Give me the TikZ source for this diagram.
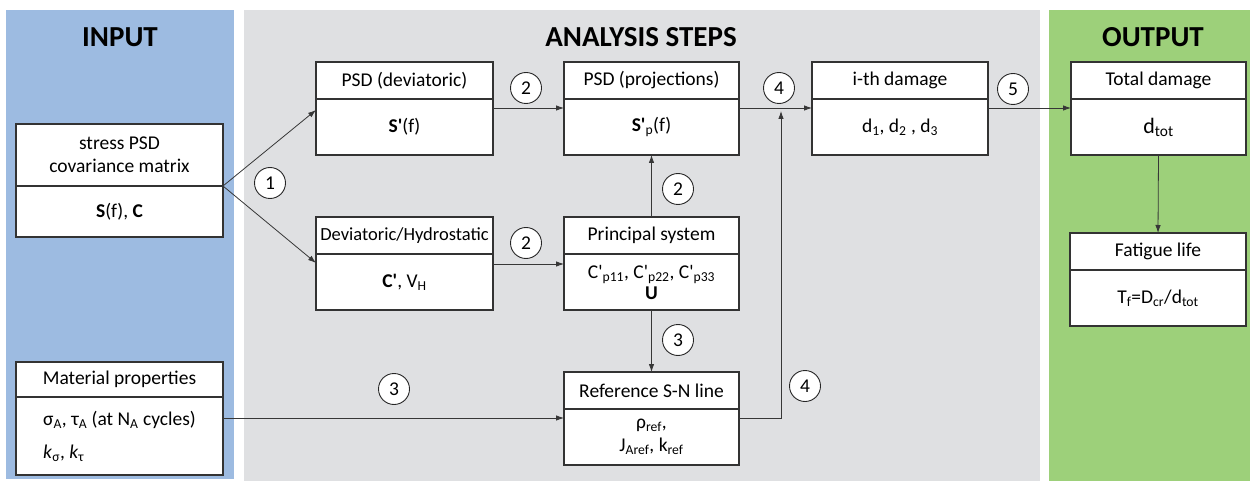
\documentclass[tikz,border=0pt]{standalone}
\usepackage{fontspec}
\setmainfont{Carlito}
\usetikzlibrary{positioning}
\usetikzlibrary{arrows.meta}
\usetikzlibrary{calc}
\definecolor{inblue}{RGB}{157,187,225}
\definecolor{stepgray}{RGB}{223,224,226}
\definecolor{outgreen}{RGB}{157,208,122}
\definecolor{linegray}{RGB}{55,55,55}
\tikzset{
    headbox/.style = {rectangle, draw=black!80, line width=1.1pt, fill=white, minimum width=#1, minimum height=37, inner sep=2pt, outer sep=0pt, align=center, font=\fontsize{19.5}{23}\selectfont},
    bodybox/.style = {rectangle, draw=black!80, line width=1.1pt, fill=white, minimum width=#1, minimum height=56, inner sep=2pt, outer sep=0pt, align=center, font=\fontsize{19.5}{23}\selectfont},
    stepnum/.style = {circle, draw=black!85, line width=0.9pt, fill=white, minimum size=31, inner sep=0pt, font=\fontsize{19.5}{19.5}\selectfont},
    paneltitle/.style = {font=\fontsize{29}{29}\selectfont\bfseries},
    edgen/.style = {-{Latex[length=8pt,width=5.5pt]}, line width=0.8pt, draw=linegray},
}

\begin{document}
\begin{tikzpicture}[x=1pt,y=-1pt]
\useasboundingbox (0,0) rectangle (1250,481);
% panels
\fill[inblue] (6,10) rectangle (234,479);
\fill[stepgray] (244,10) rectangle (1040,481);
\fill[outgreen] (1049,10) rectangle (1250,481);
\node[paneltitle] at (120,37) (tin) {INPUT};
\node[paneltitle] at (641,37) (tsteps) {ANALYSIS STEPS};
\node[paneltitle] at (1153,37) (tout) {OUTPUT};
%
\node[headbox=207, minimum height=62, anchor=north west] at (16,124) (stress) {stress PSD\\covariance matrix};
\node[bodybox=207, minimum height=51, below=0pt of stress] (stress-b) {\textbf{S}(f), \textbf{C}};
\node[headbox=207, minimum height=35, anchor=north west] at (16,362) (mat) {Material properties};
\node[bodybox=207, minimum height=78, align=left, below=0pt of mat] (mat-b) {σ\textsubscript{A}, τ\textsubscript{A} (at N\textsubscript{A} cycles)\\[10pt]\textit{k}\textsubscript{σ}, \textit{k}\textsubscript{τ}};
%
\node[headbox=177, anchor=north west] at (316,62) (dev) {PSD (deviatoric)};
\node[bodybox=177, below=0pt of dev] (dev-b) {\textbf{S\textquotesingle}(f)};
\node[headbox=177, font=\fontsize{18.5}{22}\selectfont, anchor=north west] at (316,217) (hyd) {Deviatoric/Hydrostatic};
\node[bodybox=177, below=0pt of hyd] (hyd-b) {\textbf{C\textquotesingle}, V\textsubscript{H}};
\node[headbox=175, anchor=north west] at (564,62) (proj) {PSD (projections)};
\node[bodybox=175, below=0pt of proj] (proj-b) {\textbf{S\textquotesingle}\textsubscript{p}(f)};
\node[headbox=175, anchor=north west] at (564,217) (prin) {Principal system};
\node[bodybox=175, below=0pt of prin] (prin-b) {C\textquotesingle\textsubscript{p11}, C\textquotesingle\textsubscript{p22}, C\textquotesingle\textsubscript{p33}\\[-2pt]\textbf{U}};
\node[headbox=175, anchor=north west] at (564,372) (ref) {Reference S-N line};
\node[bodybox=175, below=0pt of ref] (ref-b) {ρ\textsubscript{ref},\\J\textsubscript{Aref}, k\textsubscript{ref}};
\node[headbox=176, anchor=north west] at (812,62) (dmg) {i-th damage};
\node[bodybox=176, below=0pt of dmg] (dmg-b) {d\textsubscript{1}, d\textsubscript{2} , d\textsubscript{3}};
%
\node[headbox=175, anchor=north west] at (1071,62) (tot) {Total damage};
\node[bodybox=175, below=0pt of tot] (tot-b) {\raisebox{-2pt}{\fontsize{22}{24}\selectfont d\textsubscript{tot}}};
\node[headbox=176, anchor=north west] at (1070,233) (life) {Fatigue life};
\node[bodybox=176, below=0pt of life] (life-b) {T\textsubscript{f}=D\textsubscript{cr}/d\textsubscript{tot}};
%
\coordinate (join) at (781,111);
\draw[edgen] (stress-b.north east) -- ($(dev.south west)+(0,11)$);
\draw[edgen] (stress-b.north east) -- ($(hyd.south west)+(0,9)$);
\draw[edgen] ($(dev.south east)+(0,9)$) -- ($(proj.south west)+(0,9)$);
\draw[edgen] ($(hyd.south east)+(0,10)$) -- ($(prin.south west)+(0,10)$);
\draw[edgen] (prin.north) -- (proj-b.south);
\draw[edgen] (prin-b.south) -- (ref.north);
\draw[edgen] ($(mat.south east)+(0,21)$) -- ($(ref.south west)+(0,9)$);
\draw[edgen] ($(ref.south east)+(0,9)$) -| (join);
\draw[edgen] ($(proj.south east)+(0,9)$) -- ($(dmg.south west)+(0,9)$);
\draw[edgen] ($(dmg.south east)+(0,9)$) -- ($(tot.south west)+(0,9)$);
\draw[edgen] (tot-b.south) -- (life.north);
%
\node[stepnum] at (270,183) (s1) {1};
\node[stepnum] at (526,88) (s2a) {2};
\node[stepnum] at (526,243) (s2b) {2};
\node[stepnum] at (678,189) (s2c) {2};
\node[stepnum] at (678,340) (s3a) {3};
\node[stepnum] at (394,389) (s3b) {3};
\node[stepnum] at (779,88) (s4a) {4};
\node[stepnum] at (805,386) (s4b) {4};
\node[stepnum] at (1013,89) (s5) {5};
\end{tikzpicture}
\end{document}
